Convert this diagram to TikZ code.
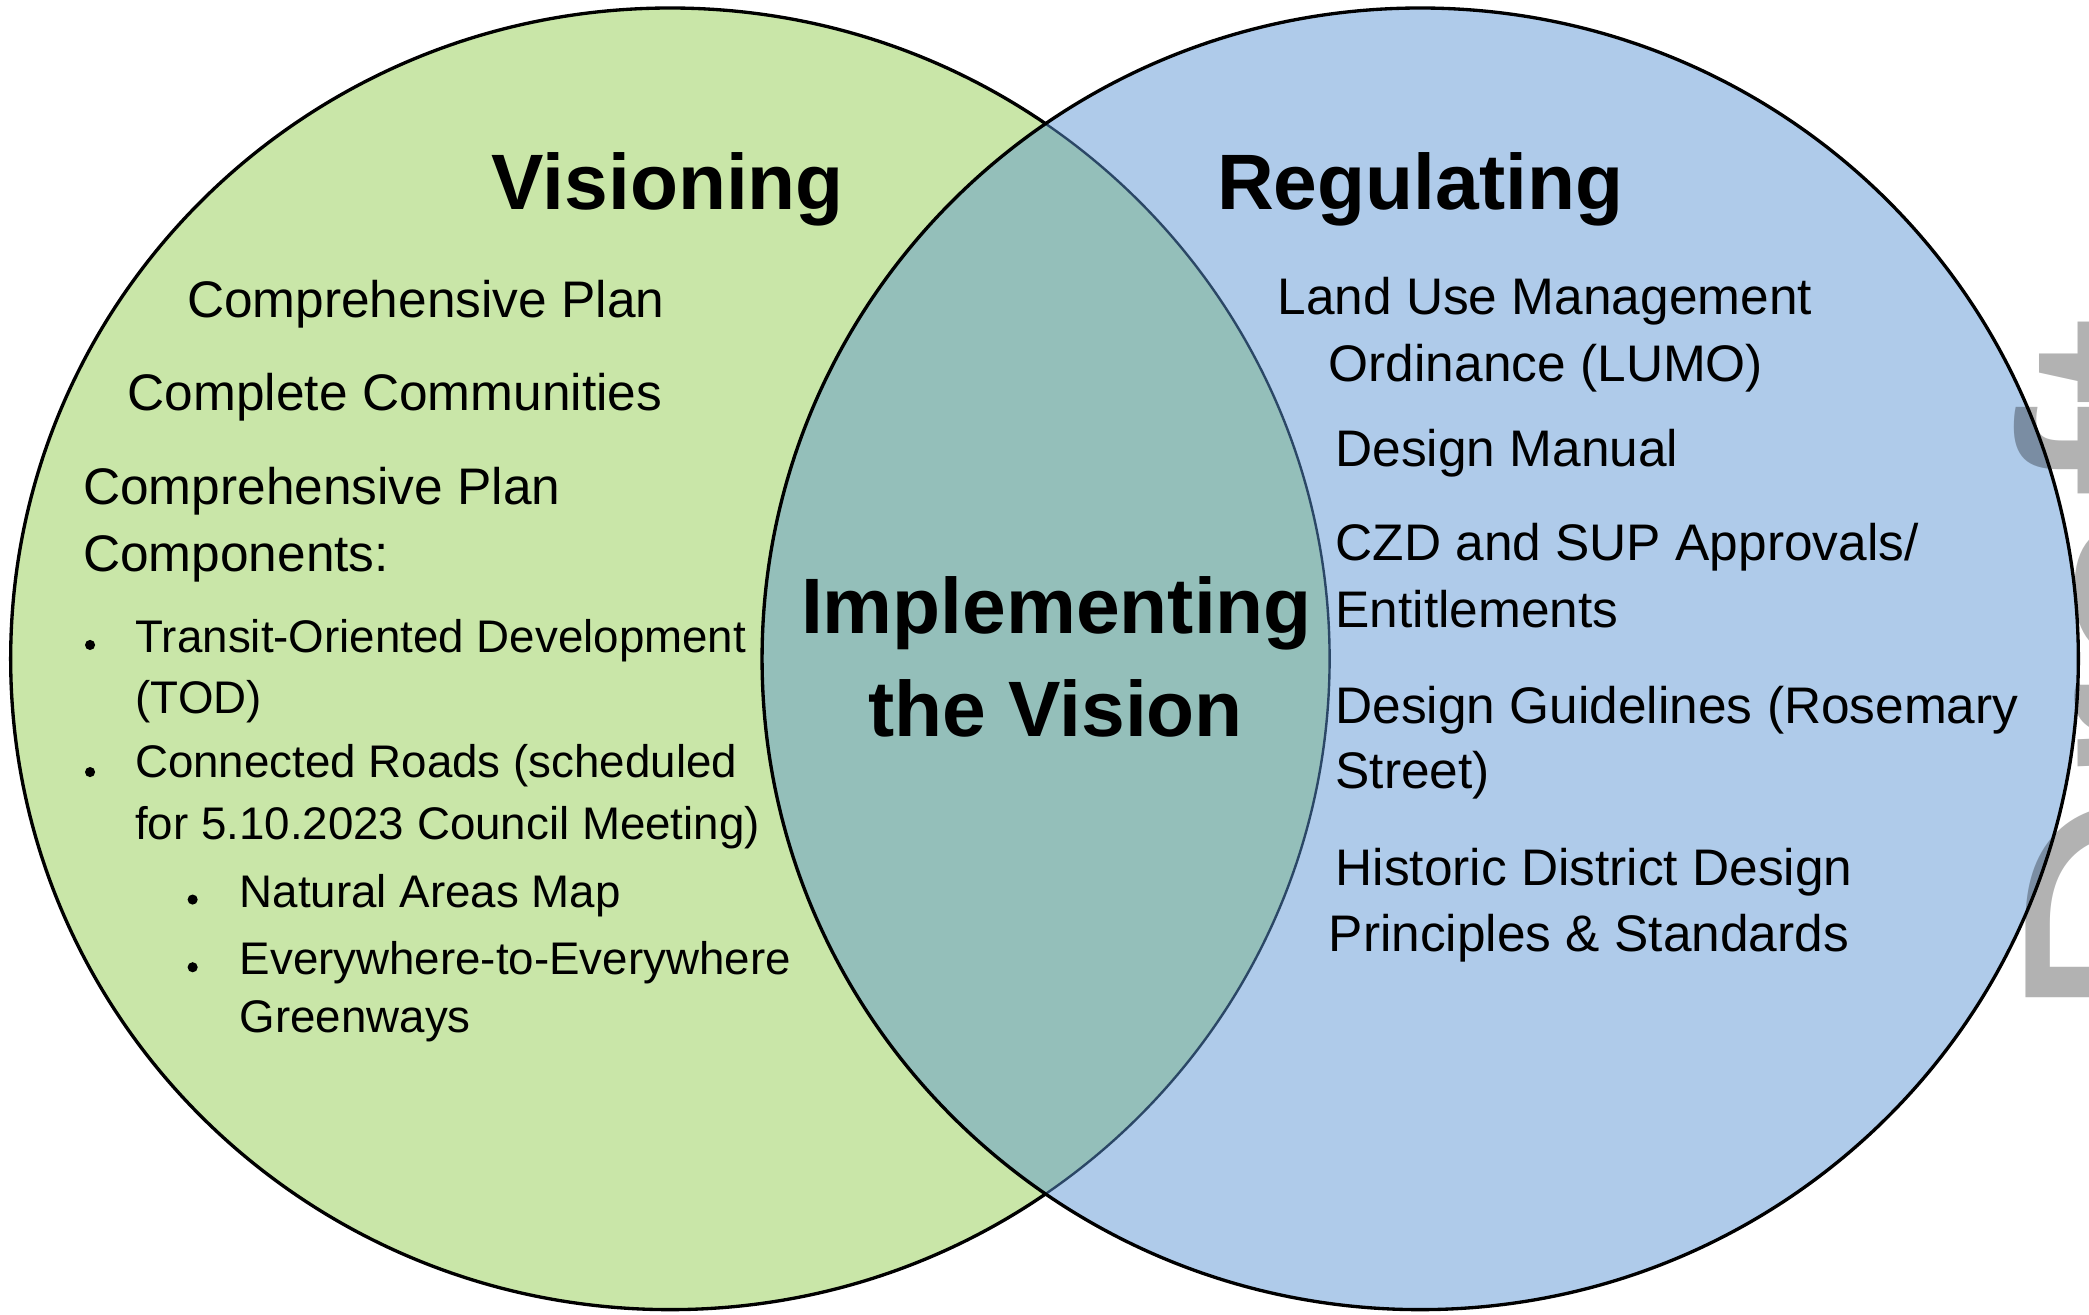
\documentclass[tikz,border=0pt]{standalone}
\usepackage{fontspec}
\setmainfont{Liberation Sans}
\definecolor{vgreen}{HTML}{C9E6A8}
\definecolor{rblue}{HTML}{AFCBEA}
\definecolor{iteal}{HTML}{94BFBA}
\definecolor{arcnavy}{HTML}{2B4766}
\begin{document}
\begin{tikzpicture}[x=0.5pt,y=-0.5pt,
  leftell/.style={insert path={(503,494.5) ellipse [x radius=247.5pt, y radius=244.25pt]}},
  rightell/.style={insert path={(1066,494.5) ellipse [x radius=247pt, y radius=244.25pt]}},
  outline/.style={line width=1.25pt, draw=black},
  body/.style={anchor=base west, inner sep=0pt, font=\fontsize{19.3}{23}\selectfont},
  smalltxt/.style={anchor=base west, inner sep=0pt, font=\fontsize{17.15}{21}\selectfont},
  title/.style={anchor=base west, inner sep=0pt, font=\fontsize{29.5}{35}\selectfont\bfseries},
  ctitle/.style={anchor=base, inner sep=0pt, font=\fontsize{29.5}{35}\selectfont\bfseries},
  dot/.style={circle, fill=black, inner sep=0pt, minimum size=3.8pt},
  watermark/.style={anchor=base west, inner sep=0pt, rotate=90, text=black, text opacity=0.3,
    font=\fontsize{122.5}{130}\selectfont}
]
\useasboundingbox (0,0) rectangle (1568,986.3);
\clip (0,0) rectangle (1568,986.3);

% circles
\fill[vgreen, leftell];
\path[outline, leftell];
\fill[rblue, rightell];
\begin{scope}
  \clip[leftell];
  \fill[iteal, rightell];
\end{scope}
\begin{scope}
  \clip[rightell];
  \draw[line width=0.9pt, arcnavy, leftell];
\end{scope}
\path[outline, rightell];

% titles
\node[title] (vis) at (368.6,157.6) {Visioning};
\node[title] (reg) at (913.2,157.5) {Regulating};
\node[ctitle] (imp1) at (793,475.8) {Implementing};
\node[ctitle] (imp2) at (792.5,552.9) {the Vision};

% left texts
\node[body] (l1) at (140,238) {Comprehensive Plan};
\node[body] (l2) at (95.5,308.3) {Complete Communities};
\node[body] (l3a) at (62,378.7) {Comprehensive Plan};
\node[body] (l3b) at (62,428.9) {Components:};
\node[dot] (b1) at (67.6,484.1) {};
\node[smalltxt] (l4a) at (101.5,489.5) {Transit-Oriented Development};
\node[smalltxt] (l4b) at (101.5,535.8) {(TOD)};
\node[dot] (b2) at (67.6,579.5) {};
\node[smalltxt] (l5a) at (101,583.6) {Connected Roads (scheduled};
\node[smalltxt] (l5b) at (101,629.8) {for 5.10.2023 Council Meeting)};
\node[dot] (b3) at (144.6,675.2) {};
\node[smalltxt] (l6) at (179.5,681) {Natural Areas Map};
\node[dot] (b4) at (144.6,726) {};
\node[smalltxt] (l7a) at (179.5,731.3) {Everywhere-to-Everywhere};
\node[smalltxt] (l7b) at (179.5,775) {Greenways};

% right texts
\node[body] (r1a) at (958.5,236.2) {Land Use Management};
\node[body] (r1b) at (997,286.5) {Ordinance (LUMO)};
\node[body] (r2) at (1002,350.2) {Design Manual};
\node[body] (r3a) at (1002,420.5) {CZD and SUP Approvals/};
\node[body] (r3b) at (1002,470.8) {Entitlements};
\node[body] (r4a) at (1002,542.7) {Design Guidelines (Rosemary};
\node[body] (r4b) at (1002,592.2) {Street)};
\node[body] (r5a) at (1002,665) {Historic District Design};
\node[body] (r5b) at (997,714.2) {Principles \& Standards};

% watermark
\node[watermark] (wm) at (1689,769) {Draft};
\end{tikzpicture}
\end{document}
